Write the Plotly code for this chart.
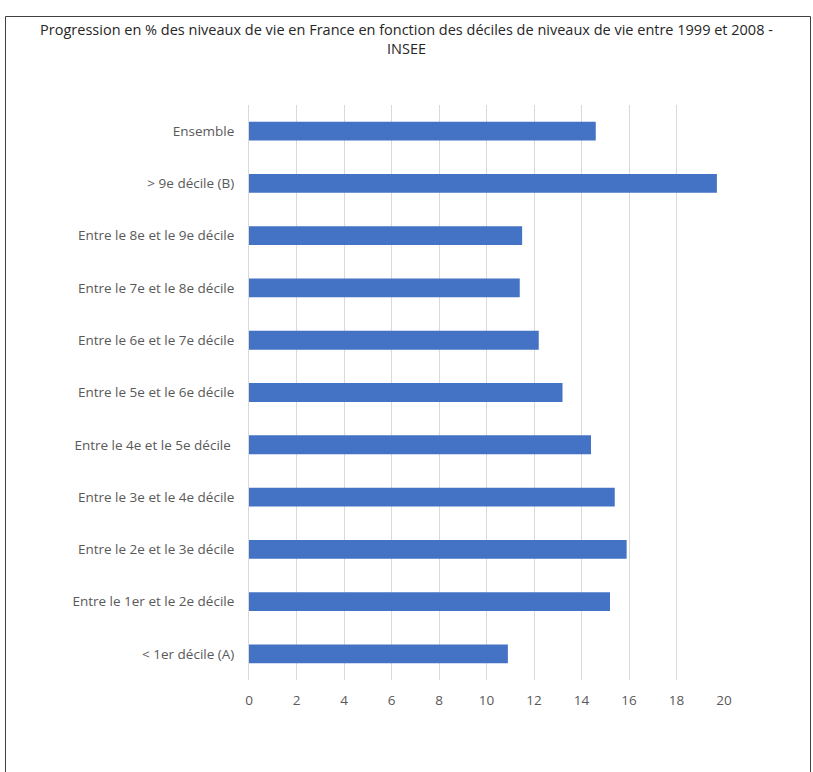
import plotly.graph_objects as go

categories = [
    "< 1er décile (A)",
    "Entre le 1er et le 2e décile",
    "Entre le 2e et le 3e décile",
    "Entre le 3e et le 4e décile",
    "Entre le 4e et le 5e décile ",
    "Entre le 5e et le 6e décile",
    "Entre le 6e et le 7e décile",
    "Entre le 7e et le 8e décile",
    "Entre le 8e et le 9e décile",
    "> 9e décile (B)",
    "Ensemble",
]
values = [10.9, 15.2, 15.9, 15.4, 14.4, 13.2, 12.2, 11.4, 11.5, 19.7, 14.6]
x_ticks = [0, 2, 4, 6, 8, 10, 12, 14, 16, 18, 20]

title_text = ("Progression en % des niveaux de vie en France en fonction des déciles "
              "de niveaux de vie entre 1999 et 2008 -<br>INSEE")

FONT = "Open Sans, Calibri, sans-serif"

fig = go.Figure(go.Bar(
    x=values,
    y=categories,
    orientation="h",
    marker=dict(color="#4472C4", line=dict(width=0)),
    width=0.36,
))

W, H = 813, 772
L, R, T, B = 249, 89, 105, 92
pw, ph = W - L - R, H - T - B

def px_to_paper_x(px):
    return (px - L) / pw

def px_to_paper_y(py):
    return (H - B - py) / ph

fig.update_layout(
    width=W, height=H, autosize=False,
    margin=dict(l=L, r=R, t=T, b=B, pad=0),
    paper_bgcolor="white", plot_bgcolor="white",
    showlegend=False,
    font=dict(family=FONT, color="#595959", size=13.5),
    title=dict(
        text=title_text,
        x=0.5, xref="container", xanchor="center",
        y=1 - 35 / H, yref="container", yanchor="top",
        font=dict(family=FONT, size=14.5, color="#262626"),
    ),
    xaxis=dict(
        range=[0, 20], tickvals=x_ticks, ticktext=[str(t) for t in x_ticks],
        showgrid=True, gridcolor="#d9d9d9", gridwidth=1,
        zeroline=False, showline=False, ticks="",
        ticklabelstandoff=10,
        tickfont=dict(size=13.5, color="#595959"),
        fixedrange=True,
    ),
    yaxis=dict(
        categoryorder="array", categoryarray=categories,
        showgrid=False, zeroline=False,
        showline=True, linecolor="#d9d9d9", linewidth=1,
        ticks="", ticklabelstandoff=11,
        tickfont=dict(size=13.5, color="#595959"),
        range=[-0.5, len(categories) - 0.5],
        fixedrange=True,
    ),
    shapes=[dict(
        type="rect", xref="paper", yref="paper",
        x0=px_to_paper_x(5.5), x1=px_to_paper_x(810.5),
        y0=px_to_paper_y(800), y1=px_to_paper_y(16.5),
        line=dict(color="#404040", width=1), fillcolor="rgba(0,0,0,0)",
        layer="below",
    )],
)

fig.write_html(
    "out.html",
    config={"displayModeBar": False},
    post_script="document.body.style.margin='0';document.body.style.overflow='hidden';",
)
